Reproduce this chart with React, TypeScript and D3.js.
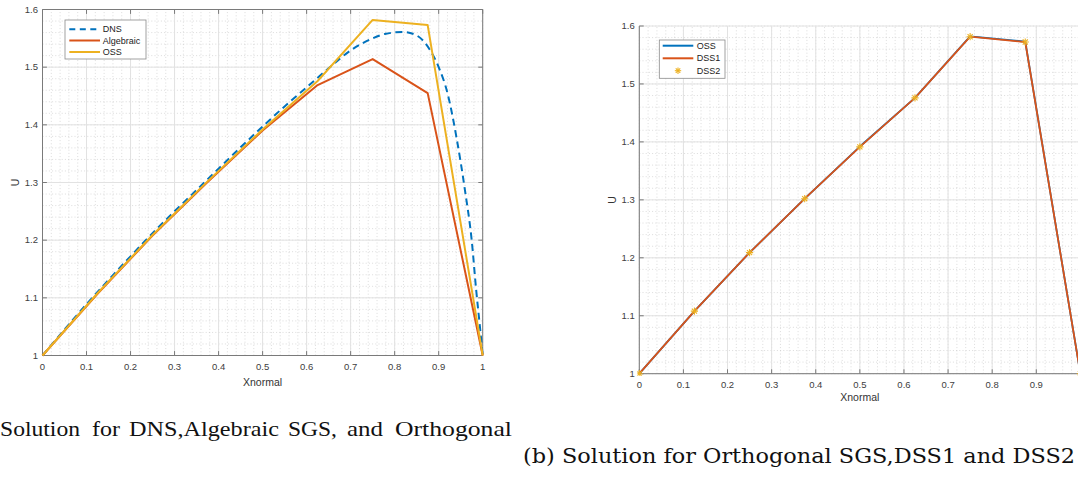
import React from 'react';
import * as d3 from 'd3';

// ---------- data ----------
const xTickValues = [0, 0.1, 0.2, 0.3, 0.4, 0.5, 0.6, 0.7, 0.8, 0.9, 1];
const xTickLabels = ['0', '0.1', '0.2', '0.3', '0.4', '0.5', '0.6', '0.7', '0.8', '0.9', '1'];
const yTickValues = [1, 1.1, 1.2, 1.3, 1.4, 1.5, 1.6];
const yTickLabels = ['1', '1.1', '1.2', '1.3', '1.4', '1.5', '1.6'];

const nodeX = [0, 0.125, 0.25, 0.375, 0.5, 0.625, 0.75, 0.875, 1];
const ossU = [1.0, 1.108, 1.209, 1.302, 1.392, 1.476, 1.582, 1.573, 1.0];
const algebraicU = [1.0, 1.107, 1.208, 1.301, 1.39, 1.469, 1.514, 1.455, 1.0];
const dss1U = [1.0, 1.108, 1.209, 1.302, 1.3915, 1.476, 1.5815, 1.5724, 1.0];
const dss2U = [1.0, 1.108, 1.209, 1.302, 1.3915, 1.476, 1.5815, 1.5724, 1.0];

const dnsX = [0, 0.05, 0.1, 0.15, 0.2, 0.25, 0.3, 0.35, 0.4, 0.45, 0.5, 0.55, 0.6, 0.65, 0.7, 0.75, 0.78, 0.82, 0.85, 0.88, 0.9, 0.92, 0.94, 0.96, 0.975, 0.985, 0.995, 1.0];
const dnsU = [1.0, 1.045, 1.089, 1.131, 1.172, 1.212, 1.25, 1.287, 1.324, 1.361, 1.397, 1.432, 1.465, 1.498, 1.529, 1.55, 1.558, 1.561, 1.555, 1.53, 1.5, 1.455, 1.38, 1.285, 1.2, 1.115, 1.04, 1.0];

const captionAWords = ['Solution', 'for', 'DNS,Algebraic', 'SGS,', 'and', 'Orthogonal'];
const captionB = '(b) Solution for Orthogonal SGS,DSS1 and DSS2';

// layout of caption (a) words (justified line in the source document)
const captionASpans: [number, number][] = [[0, 80], [92, 120], [129, 279], [288, 337], [347, 383], [395, 512]];

const BLUE = '#0072BD';
const ORANGE = '#D95319';
const YELLOW = '#EDB120';
const SANS = '"Liberation Sans", Arial, Helvetica, sans-serif';
const W = 1078;

type Series = { name: string; xs: number[]; ys: number[]; color: string; dash?: string; width: number; marker?: boolean; line?: boolean };

function Asterisk({ cx, cy, r, color }: { cx: number; cy: number; r: number; color: string }) {
  const d = r * 0.7071;
  return (
    <g stroke={color} strokeWidth={1.1}>
      <line x1={cx - r} y1={cy} x2={cx + r} y2={cy} />
      <line x1={cx} y1={cy - r} x2={cx} y2={cy + r} />
      <line x1={cx - d} y1={cy - d} x2={cx + d} y2={cy + d} />
      <line x1={cx - d} y1={cy + d} x2={cx + d} y2={cy - d} />
    </g>
  );
}

function Panel(props: {
  id: string;
  x0: number; x1: number; y0: number; y1: number;
  box: boolean;
  series: Series[];
  legendBox: [number, number, number, number];
  legendRows: number[];
  legendLine: [number, number];
  legendText: number;
  ylabX: number;
  xTickBaseline: number;
  xlabBaseline: number;
}) {
  const { x0, x1, y0, y1 } = props;
  const x = d3.scaleLinear().domain([0, 1]).range([x0, x1]);
  const y = d3.scaleLinear().domain([1, 1.6]).range([y0, y1]);
  const minorX = d3.range(0, 1.0001, 0.02);
  const minorY = d3.range(1, 1.6001, 0.02);
  const tl = 4.4;
  const [lx0, ly0, lx1, ly1] = props.legendBox;

  return (
    <g>
      <defs>
        <clipPath id={props.id}>
          <rect x={x0 - 2} y={y1 - 2} width={x1 - x0 + 4} height={y0 - y1 + 4} />
        </clipPath>
      </defs>
      {minorX.map((v, i) => (
        <line key={'mx' + i} x1={x(v)} x2={x(v)} y1={y0} y2={y1} stroke="#c4c4c4" strokeWidth={0.6} strokeDasharray="1,2.2" />
      ))}
      {minorY.map((v, i) => (
        <line key={'my' + i} x1={x0} x2={x1} y1={y(v)} y2={y(v)} stroke="#c4c4c4" strokeWidth={0.6} strokeDasharray="1,2.2" />
      ))}
      {xTickValues.map((v, i) => (
        <line key={'gx' + i} x1={x(v)} x2={x(v)} y1={y0} y2={y1} stroke="#e2e2e2" strokeWidth={1} />
      ))}
      {yTickValues.map((v, i) => (
        <line key={'gy' + i} x1={x0} x2={x1} y1={y(v)} y2={y(v)} stroke="#e2e2e2" strokeWidth={1} />
      ))}
      <line x1={x0} x2={x1} y1={y0} y2={y0} stroke="#7a7a7a" strokeWidth={1} />
      <line x1={x0} x2={x0} y1={y0} y2={y1} stroke="#7a7a7a" strokeWidth={1} />
      {props.box && (
        <g>
          <line x1={x0} x2={x1} y1={y1} y2={y1} stroke="#7a7a7a" strokeWidth={1} />
          <line x1={x1} x2={x1} y1={y0} y2={y1} stroke="#7a7a7a" strokeWidth={1} />
        </g>
      )}
      {xTickValues.map((v, i) => (
        <g key={'tx' + i}>
          <line x1={x(v)} x2={x(v)} y1={y0} y2={y0 - tl} stroke="#7a7a7a" strokeWidth={1} />
          {props.box && <line x1={x(v)} x2={x(v)} y1={y1} y2={y1 + tl} stroke="#7a7a7a" strokeWidth={1} />}
          {x(v) + 4 < W && (
            <text x={x(v)} y={props.xTickBaseline} textAnchor="middle" fontFamily={SANS} fontSize={9.5} fill="#404040">{xTickLabels[i]}</text>
          )}
        </g>
      ))}
      {yTickValues.map((v, i) => (
        <g key={'ty' + i}>
          <line x1={x0} x2={x0 + tl} y1={y(v)} y2={y(v)} stroke="#7a7a7a" strokeWidth={1} />
          {props.box && <line x1={x1} x2={x1 - tl} y1={y(v)} y2={y(v)} stroke="#7a7a7a" strokeWidth={1} />}
          <text x={x0 - 4.5} y={y(v)} dy="0.35em" textAnchor="end" fontFamily={SANS} fontSize={9.5} fill="#404040">{yTickLabels[i]}</text>
        </g>
      ))}
      <text x={(x0 + x1) / 2} y={props.xlabBaseline} textAnchor="middle" fontFamily={SANS} fontSize={10.5} fill="#333">Xnormal</text>
      <text transform={`translate(${props.ylabX},${(y0 + y1) / 2}) rotate(-90)`} textAnchor="middle" dy="0.35em" fontFamily={SANS} fontSize={10.5} fill="#333">U</text>
      <g clipPath={`url(#${props.id})`}>
        {props.series.map((s) => {
          const pts: [number, number][] = s.xs.map((xv, i) => [xv, s.ys[i]]);
          const gen = d3.line<[number, number]>().x((d) => x(d[0])).y((d) => y(d[1])).curve(s.dash ? d3.curveMonotoneX : d3.curveLinear);
          return (
            <g key={s.name}>
              {s.line !== false && (
                <path d={gen(pts) || ''} fill="none" stroke={s.color} strokeWidth={s.width} strokeDasharray={s.dash} strokeLinejoin="round" />
              )}
              {s.marker && pts.map((p, i) => <Asterisk key={i} cx={x(p[0])} cy={y(p[1])} r={3.6} color={s.color} />)}
            </g>
          );
        })}
      </g>
      <rect x={lx0} y={ly0} width={lx1 - lx0} height={ly1 - ly0} fill="#fff" stroke="#8a8a8a" strokeWidth={0.8} />
      {props.series.map((s, i) => {
        const ry = props.legendRows[i];
        const [a, b] = props.legendLine;
        return (
          <g key={'lg' + s.name}>
            {s.line !== false ? (
              <line x1={a} x2={b} y1={ry} y2={ry} stroke={s.color} strokeWidth={2} strokeDasharray={s.dash ? '6,4.5' : undefined} />
            ) : (
              <Asterisk cx={(a + b) / 2} cy={ry} r={3.2} color={s.color} />
            )}
            <text x={props.legendText} y={ry} dy="0.35em" fontFamily={SANS} fontSize={9} fill="#222">{s.name}</text>
          </g>
        );
      })}
    </g>
  );
}

export default function App() {
  const leftSeries: Series[] = [
    { name: 'DNS', xs: dnsX, ys: dnsU, color: BLUE, dash: '7,4.5', width: 2 },
    { name: 'Algebraic', xs: nodeX, ys: algebraicU, color: ORANGE, width: 2 },
    { name: 'OSS', xs: nodeX, ys: ossU, color: YELLOW, width: 2 },
  ];
  const rightSeries: Series[] = [
    { name: 'OSS', xs: nodeX, ys: ossU, color: BLUE, width: 1.8 },
    { name: 'DSS1', xs: nodeX, ys: dss1U, color: ORANGE, width: 1.8 },
    { name: 'DSS2', xs: nodeX, ys: dss2U, color: YELLOW, width: 1.5, marker: true, line: false },
  ];
  const serifA = '"Liberation Serif", "Times New Roman", serif';
  return (
    <svg width={W} height={482} style={{ position: 'absolute', left: 0, top: 0, background: '#fff' }}>
      <rect x={0} y={0} width={W} height={482} fill="#fff" />
      <Panel
        id="clipA"
        x0={42.5} x1={482.7} y0={355.5} y1={9.5}
        box={true}
        series={leftSeries}
        legendBox={[65, 20, 146, 59]}
        legendRows={[29.3, 40.5, 52]}
        legendLine={[69.3, 100]}
        legendText={102.7}
        ylabX={15}
        xTickBaseline={370}
        xlabBaseline={385.5}
      />
      <Panel
        id="clipB"
        x0={639.3} x1={1080.4} y0={373.7} y1={26}
        box={false}
        series={rightSeries}
        legendBox={[659.3, 40, 725, 78.3]}
        legendRows={[45.7, 58.3, 70.7]}
        legendLine={[662.7, 693.3]}
        legendText={696.7}
        ylabX={612}
        xTickBaseline={388}
        xlabBaseline={400.5}
      />
      {captionAWords.map((w, i) => (
        <text key={'ca' + i} x={captionASpans[i][0]} y={435.5} fontFamily={serifA} fontSize={21} fill="#111"
          textLength={captionASpans[i][1] - captionASpans[i][0]} lengthAdjust="spacingAndGlyphs">{w}</text>
      ))}
      <text x={523} y={463} fontFamily='"DejaVu Serif", serif' fontSize={20} fill="#111" textLength={552} lengthAdjust="spacingAndGlyphs">{captionB}</text>
    </svg>
  );
}
